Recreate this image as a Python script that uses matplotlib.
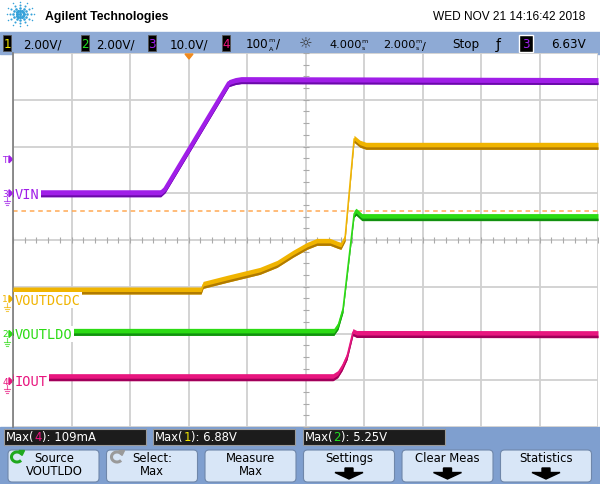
import numpy as np
import matplotlib
matplotlib.use("Agg")
import matplotlib.pyplot as plt
from matplotlib.patches import Rectangle, FancyBboxPatch, Polygon, Arc

# ---- captured traces (time in ms, 2 ms/div, 4 ms delay) ----
t_vin = [-6.0, -0.95, -0.80, 1.38, 1.60, 1.80, 14.0]
vin = [0.0, 0.0, 0.86, 23.55, 24.0, 24.2, 24.0]                 # ch3, V

t_dcdc = [-6.0, 0.43, 0.50, 1.32, 2.44, 3.03, 3.57, 4.05, 4.39, 4.84,
          5.11, 5.21, 5.35, 5.66, 5.86, 6.07, 14.0]
vout_dcdc = [0.36, 0.36, 0.60, 0.86, 1.20, 1.50, 1.93, 2.27, 2.44, 2.44,
             2.31, 2.27, 2.61, 6.85, 6.64, 6.55, 6.55]            # ch1, V

t_ldo = [-6.0, 4.97, 5.11, 5.28, 5.66, 5.73, 5.93, 14.0]
vout_ldo = [0.09, 0.09, 0.34, 1.07, 5.14, 5.23, 5.0, 5.0]         # ch2, V

t_iout = [-6.0, 4.94, 5.10, 5.25, 5.42, 5.62, 5.75, 14.0]
iout = [8.6, 8.6, 15.0, 30.0, 53.5, 105.0, 101.0, 100.6]          # ch4, mA

# channel settings: scale per div, ground position (div from bottom)
ch_scale = [2.0, 2.0, 10.0, 100.0]
ch_ground = [2.74, 1.99, 5.0, 0.98]
ch_names = ["VOUTDCDC", "VOUTLDO", "VIN", "IOUT"]
trig_level = 6.63
aux_level = 4.62

meas_ch = ["4", "1", "2"]
meas_val = ["109mA", "6.88V", "5.25V"]
btn_top = ["Source", "Select:", "Measure", "Settings", "Clear Meas", "Statistics"]
btn_bot = ["VOUTLDO", "Max", "Max", None, None, None]

trace_col = ["#F0B400", "#2CDB14", "#A01EE8", "#E8167F"]
trace_dark = ["#B07A00", "#129010", "#6A0AA8", "#A0005A"]
digit_col = ["#F2E600", "#22E022", "#A020F0", "#F0147F"]

fig = plt.figure(figsize=(6, 4.85), dpi=100)

# ---- background / frame (pixel coordinates) ----
bg = fig.add_axes([0, 0, 1, 1])
bg.set_xlim(0, 600)
bg.set_ylim(485, 0)
bg.axis("off")
bg.add_patch(Rectangle((0, 0), 600, 485, color="white"))
bg.add_patch(Rectangle((0, 33), 600, 22, color="#8EAAD5"))
bg.add_patch(Rectangle((0, 428), 600, 57, color="#7F9FCF"))

# logo
ang = np.deg2rad(np.arange(0, 360, 30))
for r, s in [(3.5, 5), (7, 3.5), (10.5, 2.2), (13.5, 1.2)]:
    bg.scatter(20 + r * np.cos(ang), 15 + r * 0.9 * np.sin(ang), s=s,
               color="#36A2DA", lw=0)
bg.scatter([20], [15], s=6, color="#36A2DA", lw=0)
bg.text(45, 17, "Agilent Technologies", fontsize=8.8, fontweight="bold",
        family="Liberation Sans", va="center", ha="left")
bg.text(585, 17, "WED NOV 21 14:16:42 2018", fontsize=8.6,
        family="Liberation Sans", va="center", ha="right")

# status bar
fs = 8.6
for i, x0 in enumerate([3, 81, 148, 222]):
    bg.add_patch(Rectangle((x0, 36), 8, 16, facecolor="black", edgecolor="#555555", lw=0.6))
    bg.text(x0 + 4, 44.5, str(i + 1), color=digit_col[i], fontsize=fs, ha="center", va="center")
for x0, s in [(23, "2.00V/"), (96, "2.00V/"), (170, "10.0V/")]:
    bg.text(x0, 44.5, s, fontsize=fs, va="center", ha="left")


def stacked(x0, num, up, down, slash, size=fs):
    t = bg.text(x0, 44.5, num, fontsize=size, va="center", ha="left")
    u = bg.annotate(up, xy=(1, 0.78), xycoords=t, fontsize=4.6, ha="left", va="center")
    bg.annotate(down, xy=(1, 0.12), xycoords=t, fontsize=4.6, ha="left", va="center")
    if slash:
        bg.annotate("/", xy=(1, 0), xycoords=u, xytext=(0.5, -5.5), textcoords="offset points",
                    fontsize=size, ha="left", va="bottom")


stacked(246, "100", "m", "A", True)
bg.text(306, 44, "\u263c", fontsize=11, ha="center", va="center", color="#333333")
stacked(329, "4.000", "m", "s", False, 8.2)
stacked(383, "2.000", "m", "s", True, 8.2)
bg.text(452, 44.5, "Stop", fontsize=fs, va="center", ha="left")
bg.text(498, 44.5, "\u0192", fontsize=10, va="center", ha="center")
bg.add_patch(Rectangle((519, 35.5), 14, 17.5, facecolor="black", edgecolor="white", lw=1))
bg.text(526, 44.5, "3", color=digit_col[2], fontsize=fs, ha="center", va="center")
bg.text(551, 44.5, "6.63V", fontsize=fs, va="center", ha="left")


# left channel markers
def marker(py, txt, col):
    bg.text(5, py, txt, color=col, fontsize=6.5, ha="center", va="center")
    bg.add_patch(Polygon([[9, py - 3.5], [12.5, py], [9, py + 3.5]], color=col))


for i in range(4):
    py = 428 - ch_ground[i] * 46.75
    marker(py, str(i + 1), trace_col[i])
    gc = trace_col[i]
    bg.plot([7, 7], [py + 4, py + 8], color=gc, lw=0.8, alpha=0.7)
    bg.plot([4, 10], [py + 8, py + 8], color=gc, lw=0.8, alpha=0.7)
    bg.plot([5, 9], [py + 10, py + 10], color=gc, lw=0.8, alpha=0.7)
    bg.plot([6, 8], [py + 12, py + 12], color=gc, lw=0.8, alpha=0.7)
marker(428 - (ch_ground[2] + trig_level / ch_scale[2]) * 46.75 - 3, "T", trace_col[2])

# measurement boxes
for i, x0 in enumerate([4, 153, 303]):
    bg.add_patch(Rectangle((x0, 430), 142, 16, facecolor="#1C1C1C", edgecolor="#9A9A9A", lw=0.8))
    t1 = bg.text(x0 + 2, 438, "Max(", color="white", fontsize=8.4, va="center", ha="left")
    t2 = bg.annotate(meas_ch[i], xy=(1, 0), xycoords=t1, va="bottom", ha="left",
                     color=digit_col[int(meas_ch[i]) - 1], fontsize=8.4)
    bg.annotate("): " + meas_val[i], xy=(1, 0), xycoords=t2, va="bottom", ha="left",
                color="white", fontsize=8.4)

# soft-key buttons
for i, x0 in enumerate([8, 106.5, 205, 303.5, 402, 500.5]):
    bg.add_patch(FancyBboxPatch((x0, 451), 91, 32, boxstyle="round,pad=0,rounding_size=4",
                                facecolor="#D8E6F7", edgecolor="#6F87AA", lw=0.8))
    cx = x0 + 45.5
    if i == 0:
        cx = 54
    if i == 1:
        cx = 152
    bg.text(cx, 459, btn_top[i], fontsize=8.4, ha="center", va="center")
    if btn_bot[i]:
        bg.text(cx, 472, btn_bot[i], fontsize=8.4, ha="center", va="center")
    else:
        bg.add_patch(Polygon([[cx - 4, 469], [cx + 4, 469], [cx + 4, 473.5], [cx + 14, 473.5],
                              [cx, 480], [cx - 14, 473.5], [cx - 4, 473.5]], color="black"))
for cx, col in [(17, "#1FA81F"), (117, "#9A9A9A")]:
    bg.add_patch(Arc((cx, 458), 11, 10, theta1=40, theta2=330, color=col, lw=2.2))
    bg.add_patch(Polygon([[cx + 2, 451.5], [cx + 7.5, 451.5], [cx + 5, 456.5]], color=col))

# ---- graticule and traces ----
ax = fig.add_axes([13 / 600, 57 / 485, 585 / 600, 374 / 485])
ax.set_zorder(1)
ax.set_xlim(-6, 14)
ax.set_ylim(0, 8)
ax.set_xticks(np.arange(-6, 15, 2))
ax.set_yticks(np.arange(0, 9, 1))
ax.grid(color="#D0D0D0", lw=1.3)
ax.set_axisbelow(True)
ax.tick_params(length=0, labelbottom=False, labelleft=False)
for s in ["top", "right", "bottom"]:
    ax.spines[s].set_visible(False)
ax.spines["left"].set_color("#7A7A7A")
ax.spines["left"].set_linewidth(1.2)
ax.plot(np.full(33, 4.0), np.arange(0, 8.01, 0.25), ls="none", marker="_",
        ms=4, color="#AAAAAA", mew=0.8, zorder=1)
ax.plot(np.arange(-6, 14.01, 0.4), np.full(51, 4.0), ls="none", marker="|",
        ms=4, color="#AAAAAA", mew=0.8, zorder=1)

ax.axhline(aux_level, color="#FFAA55", lw=1.1, ls=(0, (3, 2.5)), zorder=2)

h = 3.5 / 46.75
traces = [(t_dcdc, vout_dcdc, 1.0), (t_ldo, vout_ldo, 1.0), (t_vin, vin, 3.0), (t_iout, iout, 1.0)]
for i in [2, 0, 1, 3]:
    t, v, lw = traces[i]
    y = ch_ground[i] + np.asarray(v) / ch_scale[i]
    ax.fill_between(t, y - h, y + h, color=trace_col[i], lw=0, zorder=3)
    ax.fill_between(t, y - h, y - h * 0.3, color=trace_dark[i], lw=0, zorder=3)
    ax.plot(t, y, color=trace_col[i], lw=lw, zorder=3, solid_capstyle="butt")

# label baselines (div)
label_y = [2.631, 1.904, 4.898, 0.898]
for i in range(4):
    ax.text(-5.93, label_y[i], ch_names[i], color=trace_col[i], fontsize=9.8,
            family="DejaVu Sans Mono", ha="left", va="baseline", zorder=5,
            bbox=dict(facecolor="white", edgecolor="none", pad=1.0))

# trigger position marker
top = fig.add_axes([0, 0, 1, 1], zorder=2)
top.set_xlim(0, 600)
top.set_ylim(485, 0)
top.axis("off")
top.patch.set_alpha(0)
top.add_patch(Polygon([[185, 55], [193, 55], [189, 60]], color="#F08A1E"))

fig.savefig("out.png", dpi=100)
